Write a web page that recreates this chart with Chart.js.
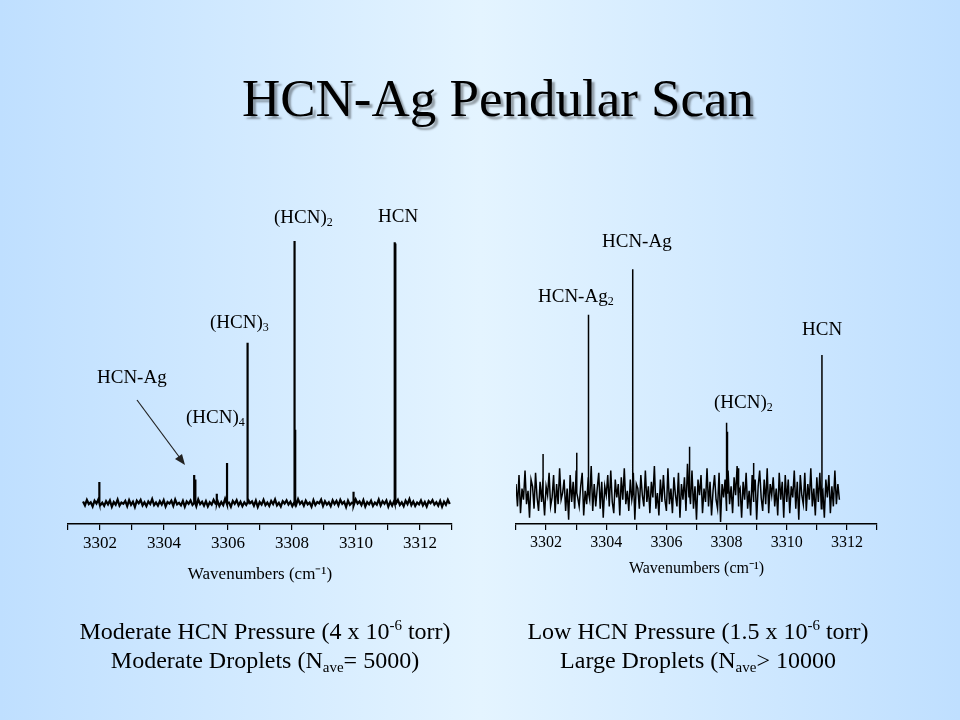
<!DOCTYPE html>
<html lang="en">
<head>
<meta charset="UTF-8">
<title>HCN-Ag Pendular Scan</title>
<script src="https://cdn.jsdelivr.net/npm/chart.js"></script>
<style>
  body { margin: 0; }
  #slide {
    position: relative; width: 960px; height: 720px; overflow: hidden;
    background: linear-gradient(to right, #bfdfff 0%, #e4f4ff 50%, #bfdfff 100%);
    font-family: 'Liberation Serif', 'Times New Roman', serif; color: #000;
  }
  h1 {
    position: absolute; left: 0; width: 996px; top: 68px; margin: 0;
    text-align: center; font-weight: normal; font-size: 53px; line-height: 60px;
    text-shadow: 3px 3px 2px rgba(0,0,0,0.35);
  }
  canvas { position: absolute; }
  .lbl { position: absolute; font-size: 19px; line-height: 20px; white-space: nowrap; }
  .lbl sub { font-size: 12px; vertical-align: -3px; line-height: 0; }
  .cap { position: absolute; width: 420px; text-align: center; font-size: 24px; line-height: 29px; }
  .cap sup { font-size: 15px; vertical-align: 9px; line-height: 0; }
  .cap sub { font-size: 15px; vertical-align: -4px; line-height: 0; }
  svg { position: absolute; left: 0; top: 0; }
</style>
</head>
<body>
<div id="slide">
  <h1>HCN-Ag Pendular Scan</h1>

  <canvas id="leftChart" width="440" height="400" style="left:40px; top:200px;"></canvas>
  <canvas id="rightChart" width="420" height="400" style="left:490px; top:200px;"></canvas>

  <!-- peak labels, left spectrum -->
  <div class="lbl" style="left:274px; top:207px;">(HCN)<sub>2</sub></div>
  <div class="lbl" style="left:378px; top:206px;">HCN</div>
  <div class="lbl" style="left:210px; top:312px;">(HCN)<sub>3</sub></div>
  <div class="lbl" style="left:97px; top:367px;">HCN-Ag</div>
  <div class="lbl" style="left:186px; top:407px;">(HCN)<sub>4</sub></div>

  <!-- peak labels, right spectrum -->
  <div class="lbl" style="left:602px; top:231px;">HCN-Ag</div>
  <div class="lbl" style="left:538px; top:286px;">HCN-Ag<sub>2</sub></div>
  <div class="lbl" style="left:802px; top:319px;">HCN</div>
  <div class="lbl" style="left:714px; top:392px;">(HCN)<sub>2</sub></div>

  <svg width="960" height="720">
    <line x1="137" y1="400" x2="180" y2="458" stroke="#222" stroke-width="1.2"/>
    <polygon points="185,465 175,459 182,454" fill="#222"/>
  </svg>

  <div class="cap" style="left:55px; top:617px;">Moderate HCN Pressure (4 x 10<sup>-6</sup> torr)<br>Moderate Droplets (N<sub>ave</sub>= 5000)</div>
  <div class="cap" style="left:488px; top:617px;">Low HCN Pressure (1.5 x 10<sup>-6</sup> torr)<br>Large Droplets (N<sub>ave</sub>&gt; 10000</div>
</div>

<script>
    // wavenumber axis
    const axisMin = 3301, axisMax = 3313;
    const tickLabels = [3302, 3304, 3306, 3308, 3310, 3312];

    // left spectrum (moderate pressure): baseline noise sampled every 0.06 cm-1
    const leftStart = 3301.47, leftStep = 0.06;
    const leftNoise = [
        0.6,-0.9,1.2,-0.4,0.3,-1.3,0.9,-0.2,1.4,-0.8,0.1,-1.1,0.7,-0.5,1.0,-1.4,
        0.4,-0.6,1.3,-1.0,0.2,-0.3,0.8,-1.2,1.1,-0.7,0.5,-1.5,0.9,-0.1,1.2,-0.9,
        0.3,-1.2,0.6,-0.4,1.5,-0.8,0.2,-1.0,0.7,-0.6,1.1,-1.3,0.4,-0.2,0.9,-1.1,
        1.3,-0.5,0.1,-0.9,0.8,-1.4,0.6,-0.3,1.0,-0.7,0.2,-1.2,1.4,-0.4,0.5,-1.0,
        0.7,-1.3,0.3,-0.6,1.2,-0.2,0.9,-1.1,0.4,-0.8,1.6,-0.5,0.2,-1.4,0.8,-0.3,
        1.1,-0.9,0.5,-1.2,0.3,-0.7,1.3,-0.1,0.6,-1.0,0.9,-1.5,0.4,-0.6,1.2,-0.8,
        0.2,-1.1,0.8,-0.4,1.4,-0.9,0.1,-1.3,0.7,-0.2,1.0,-0.6,0.5,-1.2,0.3,-0.7,
        1.5,-0.3,0.6,-1.0,0.9,-0.5,0.2,-1.4,1.1,-0.8,0.4,-0.1,1.3,-1.1,0.7,-0.6,
        0.3,-1.2,1.0,-0.4,0.8,-0.9,1.2,-0.3,0.5,-1.5,0.9,-0.7,0.1,-1.0,1.4,-0.2,
        0.6,-0.8,1.1,-1.3,0.4,-0.5,0.9,-1.1,0.2,-0.6,1.3,-0.9,0.7,-0.3,1.0,-1.4,
        0.5,-1.0,0.8,-0.2,1.2,-0.7,0.3,-1.2,0.9,-0.4,1.5,-0.8,0.6,-1.1,0.2,-0.5,
        1.0,-0.9,0.4,-1.3,0.7,-0.1,1.1,-0.6,0.3,-1.0,0.8,-1.4,0.5,-0.7,1.2,-0.4
    ];
    // [wavenumber, height] (HCN = 100)
    const leftPeaks = [
        [3301.98, 8], [3304.94, 10.7], [3304.98, 9], [3305.65, 3.5], [3305.97, 15.3],
        [3306.60, 61], [3306.62, 61.2], [3308.08, 100], [3308.10, 28],
        [3309.92, 4.3], [3311.21, 99.5], [3311.23, 99]
    ];

    // right spectrum (low pressure): baseline noise sampled every 0.05 cm-1
    const rightStart = 3301.0, rightStep = 0.05;
    const rightNoise = [
        4,-6,8,-9,2,-3,10,-5,1,-11,6,3,-7,9,-2,-8,5,-4,
        7,-10,3,-1,9,-6,-2,8,-9,4,-5,11,-3,0,6,-8,2,-12,
        8,-4,5,-7,10,-2,-6,3,9,-10,1,-5,7,-3,12,-8,4,-6,
        2,9,-7,5,-11,3,-1,8,-6,10,-4,-9,6,-2,4,-10,7,-3,
        11,-5,1,-8,6,-3,9,-12,4,2,-7,8,-1,-6,10,-4,3,-9,
        5,-2,12,-7,0,-10,6,-4,8,-3,-8,11,-5,2,-9,7,-1,-6,
        9,-11,4,-3,7,-8,13,-2,-5,10,-7,3,-12,6,-1,8,-9,2,
        -4,11,-6,5,-10,1,8,-3,-7,9,-13,4,-2,6,-8,10,-5,3,
        -9,7,-1,12,-6,2,-11,5,-3,9,-7,1,-10,8,-4,6,-12,3,
        10,-2,-8,6,-5,11,-9,4,-1,7,-6,2,-10,9,-3,5,-11,8,
        -4,6,-9,3,-2,10,-7,5,-12,8,-1,-5,9,-8,4,-3,11,-6,
        2,-10,7,-4,9,-7,1,-11,6,-2,8,-9,3,-6,10,-5,4,-3
    ];
    // [wavenumber, height] (HCN-Ag = 100)
    const rightPeaks = [
        [3301.90, 17.4], [3303.02, 18], [3303.41, 79.6], [3304.88, 100],
        [3306.77, 20.7], [3308.00, 31.4], [3308.03, 27.4], [3308.40, 11],
        [3308.90, 13.4], [3311.17, 61.7]
    ];

    // noise on an even grid, with each peak spliced in as a vertical spike
    function buildSpectrum(start, step, noise, peaks) {
        const pts = noise.map((v, i) => ({ x: +(start + i * step).toFixed(3), y: v }));
        peaks.forEach(([x, h]) => {
            let i = pts.findIndex(p => p.x > x);
            if (i < 0) i = pts.length;
            pts.splice(i, 0, { x: x, y: 0 }, { x: x, y: h }, { x: x, y: 0 });
        });
        return pts;
    }

    function renderSpectrum(id, points, opt) {
        const ctx = document.getElementById(id).getContext('2d');
        new Chart(ctx, {
            type: 'scatter',
            data: {
                datasets: [{
                    data: points,
                    showLine: true,
                    borderColor: '#000',
                    borderWidth: opt.lineWidth,
                    pointRadius: 0,
                    tension: 0
                }]
            },
            options: {
                responsive: false,
                animation: false,
                devicePixelRatio: 1,
                layout: { padding: opt.padding },
                plugins: { legend: { display: false }, tooltip: { enabled: false } },
                scales: {
                    x: {
                        type: 'linear',
                        min: axisMin,
                        max: axisMax,
                        afterFit: s => { s.height = opt.axisHeight; },
                        ticks: {
                            stepSize: 1,
                            autoSkip: false,
                            maxRotation: 0,
                            padding: 3,
                            color: '#000',
                            font: { family: "'Liberation Serif', serif", size: opt.tickSize },
                            callback: v => tickLabels.includes(v) ? String(v) : ''
                        },
                        grid: { drawOnChartArea: false, drawTicks: true, tickLength: 6, color: '#000', lineWidth: 1.2 },
                        border: { display: true, color: '#000', width: 1.5 },
                        title: {
                            display: true,
                            text: 'Wavenumbers (cm\u207B\u00B9)',
                            color: '#000',
                            padding: { top: 0, bottom: 4 },
                            font: { family: "'Liberation Serif', serif", size: opt.titleSize }
                        }
                    },
                    y: { display: false, min: opt.yMin, max: opt.yMax }
                }
            }
        });
    }

    renderSpectrum('leftChart', buildSpectrum(leftStart, leftStep, leftNoise, leftPeaks), {
        padding: { left: 28, right: 28, top: 20, bottom: 11 },
        axisHeight: 65, yMin: -8.0, yMax: 108.0,
        lineWidth: 2.2, tickSize: 17, titleSize: 17
    });

    renderSpectrum('rightChart', buildSpectrum(rightStart, rightStep, rightNoise, rightPeaks), {
        padding: { left: 26, right: 33, top: 20, bottom: 18 },
        axisHeight: 58, yMin: -13.86, yMax: 122.0,
        lineWidth: 1.5, tickSize: 16, titleSize: 16
    });
</script>
</body>
</html>
